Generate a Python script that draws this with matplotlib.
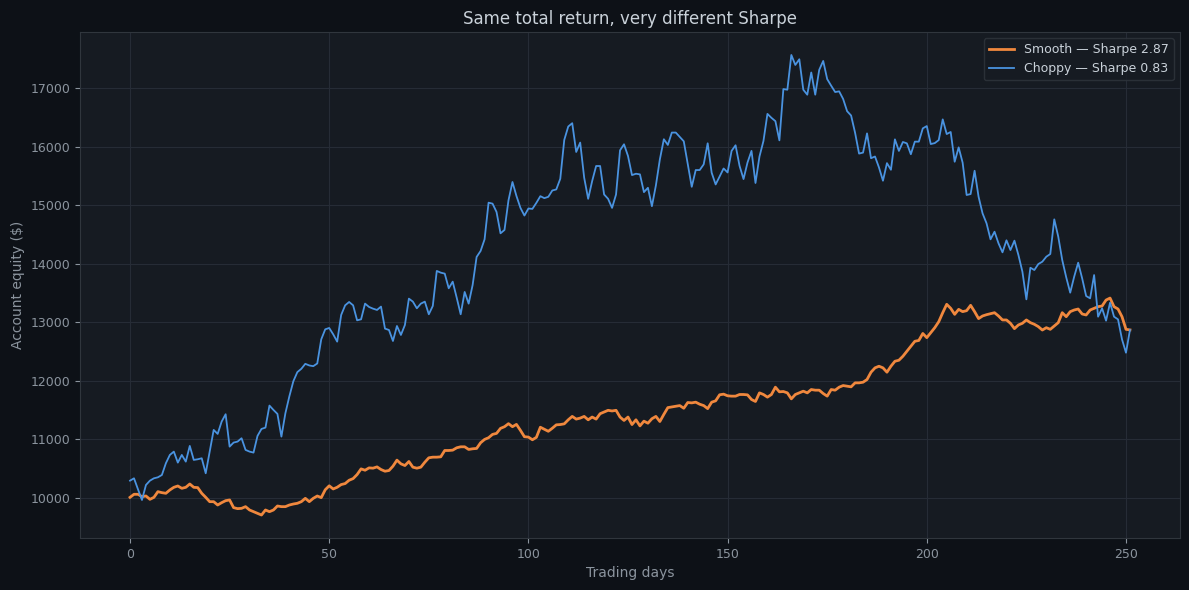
import matplotlib
matplotlib.use("Agg")
import matplotlib.pyplot as plt
import numpy as np

# equity curves, one value per trading day
smooth = [
    10011, 10063, 10063, 10023, 10034, 9977, 10011, 10108, 10091, 10080,
    10137, 10182, 10205, 10165, 10182, 10239, 10182, 10177, 10080, 10011,
    9937, 9937, 9880, 9920, 9954, 9966, 9835, 9818, 9823, 9852,
    9795, 9766, 9738, 9709, 9795, 9766, 9795, 9863, 9852, 9852,
    9880, 9897, 9909, 9937, 9994, 9937, 9994, 10034, 10006, 10140,
    10208, 10154, 10183, 10229, 10246, 10303, 10331, 10400, 10497, 10474,
    10514, 10509, 10531, 10486, 10457, 10469, 10543, 10646, 10583, 10554,
    10623, 10526, 10509, 10526, 10611, 10686, 10697, 10697, 10703, 10811,
    10811, 10817, 10857, 10874, 10874, 10829, 10840, 10846, 10943, 11000,
    11029, 11086, 11103, 11189, 11217, 11269, 11217, 11257, 11155, 11046,
    11040, 10994, 11035, 11208, 11173, 11139, 11191, 11249, 11254, 11266,
    11335, 11393, 11347, 11364, 11393, 11335, 11382, 11347, 11439, 11468,
    11497, 11486, 11497, 11382, 11324, 11382, 11254, 11335, 11231, 11312,
    11277, 11353, 11393, 11306, 11428, 11543, 11555, 11566, 11578, 11532,
    11630, 11624, 11636, 11601, 11578, 11526, 11636, 11659, 11762, 11773,
    11745, 11739, 11739, 11767, 11767, 11761, 11682, 11648, 11795, 11767,
    11722, 11767, 11892, 11813, 11818, 11795, 11693, 11767, 11795, 11824,
    11795, 11852, 11841, 11841, 11784, 11739, 11852, 11841, 11892, 11920,
    11909, 11898, 11966, 11966, 11977, 12023, 12148, 12222, 12250, 12222,
    12148, 12250, 12335, 12352, 12420, 12506, 12591, 12676, 12690, 12809,
    12738, 12822, 12908, 13010, 13164, 13307, 13239, 13136, 13221, 13182,
    13199, 13290, 13182, 13063, 13108, 13130, 13147, 13164, 13108, 13040,
    13040, 12983, 12892, 12955, 12983, 13040, 12994, 12966, 12926, 12868,
    12908, 12880, 12937, 12994, 13164, 13096, 13182, 13210, 13227, 13142,
    13125, 13210, 13239, 13267, 13278, 13380, 13414, 13267, 13227, 13096,
    12880, 12870,
]

choppy = [
    10296, 10336, 10148, 9966, 10222, 10296, 10336, 10353, 10393, 10593,
    10735, 10792, 10604, 10735, 10621, 10889, 10650, 10661, 10678, 10422,
    10792, 11162, 11094, 11305, 11430, 10877, 10946, 10963, 11020, 10821,
    10792, 10775, 11060, 11179, 11202, 11578, 11504, 11436, 11048, 11447,
    11737, 11994, 12149, 12206, 12291, 12263, 12251, 12297, 12709, 12880,
    12903, 12795, 12670, 13125, 13290, 13347, 13290, 13034, 13051, 13319,
    13262, 13233, 13211, 13268, 12892, 12869, 12681, 12937, 12784, 12954,
    13404, 13353, 13239, 13319, 13353, 13137, 13279, 13877, 13848, 13831,
    13581, 13694, 13421, 13137, 13518, 13319, 13637, 14116, 14218, 14417,
    15043, 15026, 14884, 14520, 14577, 15083, 15396, 15157, 14954, 14823,
    14943, 14937, 15040, 15154, 15120, 15143, 15251, 15269, 15451, 16114,
    16343, 16400, 15909, 16069, 15469, 15109, 15411, 15669, 15669, 15183,
    15109, 14954, 15183, 15937, 16040, 15840, 15514, 15537, 15526, 15223,
    15297, 14983, 15337, 15783, 16126, 16029, 16240, 16240, 16166, 16091,
    15697, 15314, 15600, 15600, 15697, 16057, 15554, 15354, 15492, 15627,
    15559, 15927, 16023, 15672, 15446, 15729, 15927, 15379, 15831, 16096,
    16559, 16492, 16435, 16107, 16983, 16972, 17565, 17395, 17492, 16972,
    16887, 17266, 16887, 17311, 17463, 17153, 17040, 16932, 16944, 16814,
    16605, 16531, 16237, 15881, 15898, 16226, 15802, 15831, 15644, 15418,
    15718, 15605, 16124, 15927, 16079, 16056, 15870, 16085, 16085, 16312,
    16351, 16044, 16060, 16112, 16465, 16215, 16250, 15742, 15987, 15725,
    15174, 15190, 15588, 15144, 14860, 14690, 14417, 14547, 14349, 14195,
    14400, 14234, 14394, 14149, 13864, 13392, 13932, 13893, 13995, 14035,
    14120, 14166, 14758, 14462, 14063, 13768, 13506, 13780, 14018, 13750,
    13449, 13409, 13807, 13096, 13239, 13028, 13335, 13096, 13050, 12709,
    12481, 12870,
]

labels = ["Smooth \u2014 Sharpe 2.87", "Choppy \u2014 Sharpe 0.83"]

BG = "#0d1117"
AX_BG = "#161b22"
GRID = "#262c36"
TXT = "#8b949e"

days = np.arange(len(smooth))

fig, ax = plt.subplots(figsize=(11.89, 5.9), dpi=100)
fig.patch.set_facecolor(BG)
ax.set_facecolor(AX_BG)

ax.plot(days, smooth, color="#f0883e", lw=2.0, label=labels[0])
ax.plot(days, choppy, color="#4a93e0", lw=1.3, label=labels[1])

ax.set_title("Same total return, very different Sharpe", color="#c9d1d9", fontsize=12)
ax.set_xlabel("Trading days", color=TXT, fontsize=10)
ax.set_ylabel("Account equity ($)", color=TXT, fontsize=10)
ax.tick_params(colors=TXT, labelsize=9)
ax.grid(True, color=GRID, lw=0.8)
ax.set_axisbelow(True)
for s in ax.spines.values():
    s.set_color("#30363d")

leg = ax.legend(loc="upper right", fontsize=9, facecolor=AX_BG, edgecolor="#30363d")
for t in leg.get_texts():
    t.set_color("#c9d1d9")

fig.subplots_adjust(left=0.0673, right=0.9924, top=0.9458, bottom=0.0881)
fig.savefig("out.png", dpi=100, facecolor=BG)
